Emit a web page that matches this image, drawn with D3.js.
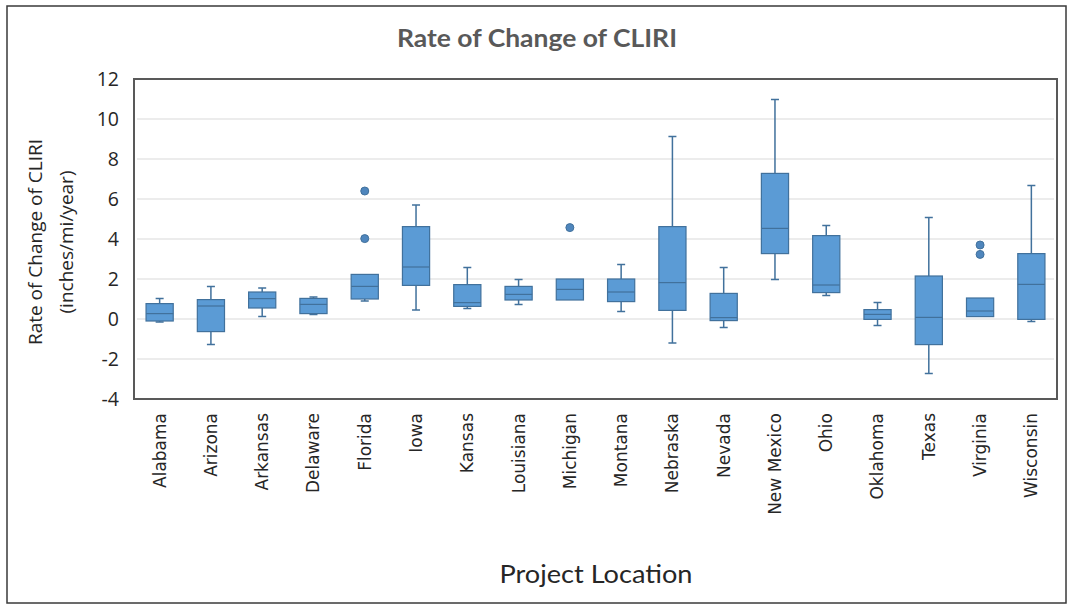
<!DOCTYPE html>
<html>
<head>
<meta charset="utf-8">
<script src="https://cdn.jsdelivr.net/npm/d3@7"></script>
<style>
  body { margin: 0; background: #fff; }
</style>
</head>
<body>
<div id="chart"></div>
<script>
const categories = ['Alabama', 'Arizona', 'Arkansas', 'Delaware', 'Florida', 'Iowa', 'Kansas', 'Louisiana',
  'Michigan', 'Montana', 'Nebraska', 'Nevada', 'New Mexico', 'Ohio', 'Oklahoma', 'Texas', 'Virginia', 'Wisconsin'];

const whiskerLow  = [-0.15, -1.27, 0.13, 0.23, 0.90, 0.45, 0.53, 0.73, 0.95, 0.37, -1.20, -0.43, 1.98, 1.18, -0.32, -2.73, 0.12, -0.13];
const q1          = [-0.10, -0.63, 0.55, 0.27, 1.00, 1.68, 0.63, 0.95, 0.95, 0.87, 0.43, -0.08, 3.27, 1.32, -0.02, -1.28, 0.12, -0.02];
const median      = [0.27, 0.65, 1.02, 0.73, 1.63, 2.60, 0.82, 1.23, 1.48, 1.35, 1.82, 0.07, 4.53, 1.70, 0.23, 0.08, 0.40, 1.73];
const q3          = [0.77, 0.97, 1.35, 1.03, 2.23, 4.62, 1.72, 1.63, 2.00, 2.00, 4.62, 1.28, 7.28, 4.17, 0.47, 2.15, 1.05, 3.27];
const whiskerHigh = [1.03, 1.63, 1.55, 1.10, 2.23, 5.70, 2.58, 1.98, 2.00, 2.73, 9.12, 2.58, 10.98, 4.68, 0.82, 5.07, 1.05, 6.68];

const outliers = [
  ['Florida', 4.02], ['Florida', 6.40],
  ['Michigan', 4.57],
  ['Virginia', 3.23], ['Virginia', 3.70]
];

const yTicks = [-4, -2, 0, 2, 4, 6, 8, 10, 12];

const W = 1069, H = 607;
const plot = { left: 134, right: 1057, top: 79, bottom: 399 };

const svg = d3.select('#chart').append('svg')
  .attr('width', W)
  .attr('height', H);

// outer chart frame
svg.append('rect')
  .attr('x', 7).attr('y', 6)
  .attr('width', 1059).attr('height', 597)
  .attr('fill', '#fff')
  .attr('stroke', '#3a3a3a')
  .attr('stroke-width', 1.5);

const x = d3.scaleBand()
  .domain(categories)
  .range([plot.left, plot.right])
  .padding(0);

const y = d3.scaleLinear()
  .domain([-4, 12])
  .range([plot.bottom, plot.top]);

// gridlines
svg.append('g')
  .selectAll('line')
  .data(yTicks.filter(t => t > -4 && t < 12))
  .join('line')
  .attr('x1', plot.left + 3)
  .attr('x2', plot.right - 3)
  .attr('y1', d => y(d))
  .attr('y2', d => y(d))
  .attr('stroke', '#d9d9d9')
  .attr('stroke-width', 1);

// y axis labels (plain hyphen for negatives, like the original)
const yAxis = d3.axisLeft(y).tickValues(yTicks).tickFormat(d => String(d)).tickSize(0).tickPadding(15);
svg.append('g')
  .attr('transform', `translate(${plot.left},0)`)
  .call(yAxis)
  .call(g => g.select('.domain').remove())
  .selectAll('text')
  .attr('font-family', '"Open Sans", "Noto Sans", sans-serif')
  .attr('font-size', 19.5)
  .attr('fill', '#262626');

// x axis labels (rotated)
const xAxis = d3.axisBottom(x).tickSize(0).tickPadding(0);
svg.append('g')
  .attr('transform', `translate(0,${plot.bottom})`)
  .call(xAxis)
  .call(g => g.select('.domain').remove())
  .selectAll('text')
  .attr('font-family', '"DejaVu Sans", Verdana, sans-serif')
  .attr('font-size', 17)
  .attr('fill', '#262626')
  .attr('text-anchor', 'end')
  .attr('dy', '0.35em')
  .attr('transform', 'translate(0,14) rotate(-90)');

// boxes
const boxW = x.bandwidth() * 0.53;
const capW = 8;
const stroke = '#41719c';
const boxes = svg.append('g')
  .selectAll('g')
  .data(categories.map((c, i) => ({ c, lo: whiskerLow[i], q1: q1[i], med: median[i], q3: q3[i], hi: whiskerHigh[i] })))
  .join('g')
  .attr('transform', d => `translate(${x(d.c) + x.bandwidth() / 2},0)`);

// whiskers
boxes.filter(d => d.hi > d.q3).append('path')
  .attr('d', d => `M0,${y(d.q3)}V${y(d.hi)}M${-capW / 2},${y(d.hi)}H${capW / 2}`)
  .attr('stroke', stroke).attr('stroke-width', 1.5).attr('fill', 'none');
boxes.filter(d => d.lo < d.q1).append('path')
  .attr('d', d => `M0,${y(d.q1)}V${y(d.lo)}M${-capW / 2},${y(d.lo)}H${capW / 2}`)
  .attr('stroke', stroke).attr('stroke-width', 1.5).attr('fill', 'none');

boxes.append('rect')
  .attr('x', -boxW / 2)
  .attr('width', boxW)
  .attr('y', d => y(d.q3))
  .attr('height', d => y(d.q1) - y(d.q3))
  .attr('fill', '#5b9bd5')
  .attr('stroke', stroke)
  .attr('stroke-width', 1.2);

boxes.append('line')
  .attr('x1', -boxW / 2).attr('x2', boxW / 2)
  .attr('y1', d => y(d.med)).attr('y2', d => y(d.med))
  .attr('stroke', stroke)
  .attr('stroke-width', 1.2);

// outliers
svg.append('g')
  .selectAll('circle')
  .data(outliers)
  .join('circle')
  .attr('cx', d => x(d[0]) + x.bandwidth() / 2)
  .attr('cy', d => y(d[1]))
  .attr('r', 4)
  .attr('fill', '#4f86bd')
  .attr('stroke', stroke)
  .attr('stroke-width', 1);

// plot frame
svg.append('rect')
  .attr('x', plot.left).attr('y', plot.top)
  .attr('width', plot.right - plot.left)
  .attr('height', plot.bottom - plot.top)
  .attr('fill', 'none')
  .attr('stroke', '#595959')
  .attr('stroke-width', 2);

// title
svg.append('text')
  .attr('x', 537).attr('y', 47)
  .attr('text-anchor', 'middle')
  .attr('font-family', 'Lato, "Open Sans", sans-serif')
  .attr('font-weight', 'bold')
  .attr('font-size', 24)
  .attr('textLength', 280)
  .attr('lengthAdjust', 'spacingAndGlyphs')
  .attr('fill', '#595959')
  .text('Rate of Change of CLIRI');

// x title
svg.append('text')
  .attr('x', 596).attr('y', 583)
  .attr('text-anchor', 'middle')
  .attr('font-family', 'Lato, "Open Sans", sans-serif')
  .attr('font-size', 25)
  .attr('textLength', 193)
  .attr('lengthAdjust', 'spacingAndGlyphs')
  .attr('fill', '#262626')
  .text('Project Location');

// y title (two lines)
const yTitle = svg.append('text')
  .attr('transform', 'translate(0,242) rotate(-90)')
  .attr('text-anchor', 'middle')
  .attr('font-family', '"Open Sans", "Noto Sans", sans-serif')
  .attr('font-size', 19)
  .attr('fill', '#262626');
yTitle.append('tspan').attr('x', 0).attr('y', 42).text('Rate of Change of CLIRI');
yTitle.append('tspan').attr('x', 0).attr('y', 73).text('(inches/mi/year)');
</script>
</body>
</html>
